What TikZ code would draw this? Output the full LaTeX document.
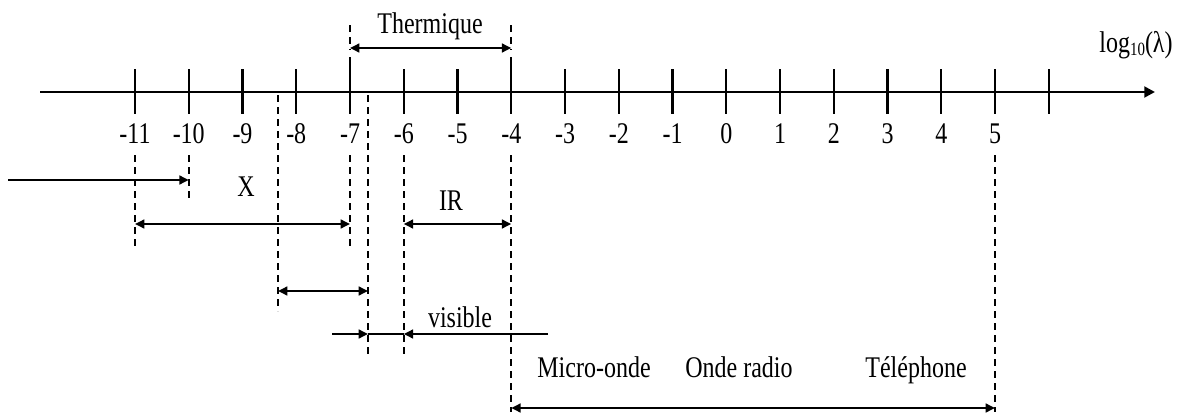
\documentclass[tikz,border=0pt]{standalone}
\usepackage{fontspec}
\setmainfont{Liberation Serif}[FakeStretch=0.8]
\usetikzlibrary{arrows.meta}
\begin{document}
\begin{tikzpicture}[x=0.75pt,y=-0.75pt,
  axisline/.style={line width=2.2pt},
  tickline/.style={line width=1.7pt},
  guide/.style={line width=1.5pt, dash pattern=on 5.5pt off 3.5pt},
  span/.style={line width=2.1pt},
  >={Triangle[length=7pt,width=6.5pt]},
  lbl/.style={font=\fontsize{22.5}{26}\selectfont, inner sep=0pt, anchor=base}]
\useasboundingbox (0,0) rectangle (1189,414);
% axis
\coordinate (axL) at (40,92);
\coordinate (axR) at (1155,92);
\draw[axisline,-{Triangle[length=8pt,width=8pt]}] (axL) -- (axR);
\node[lbl,anchor=base] (axlabel) at (1136,52) {log\raisebox{-0.25ex}{\fontsize{14}{16}\selectfont 10}(λ)};
% ticks
\foreach \k in {0,...,17}{
  \pgfmathsetmacro\xx{135+53.75*\k}
  \ifnum\k=4 \def\tt{57}\else\ifnum\k=7 \def\tt{57}\else\def\tt{69}\fi\fi
  \coordinate (tt\k) at (\xx,\tt);
  \coordinate (tb\k) at (\xx,114);
  \draw[tickline] (tt\k) -- (tb\k);
}
\foreach \k in {0,...,16}{
  \pgfmathsetmacro\xx{135+53.75*\k}
  \pgfmathtruncatemacro\v{\k-11}
  \node[lbl] (n\k) at (\xx,143) {\v};
}
% guide coordinates
\coordinate (gA1) at (135,155);    \coordinate (gA2) at (135,246);
\coordinate (gB1) at (188.75,155); \coordinate (gB2) at (188.75,200);
\coordinate (gC1) at (278,95);     \coordinate (gC2) at (278,311);
\coordinate (gD1) at (350,155);    \coordinate (gD2) at (350,246);
\coordinate (gD3) at (350,25);     \coordinate (gD4) at (350,50);
\coordinate (gE1) at (368,95);     \coordinate (gE2) at (368,358);
\coordinate (gF1) at (403.75,155); \coordinate (gF2) at (403.75,358);
\coordinate (gG1) at (511.25,155); \coordinate (gG2) at (511.25,412);
\coordinate (gG3) at (511.25,25);  \coordinate (gG4) at (511.25,50);
\coordinate (gH1) at (995,155);    \coordinate (gH2) at (995,412);
\foreach \a/\b in {gA1/gA2,gB1/gB2,gC1/gC2,gD1/gD2,gD3/gD4,gE1/gE2,gF1/gF2,gG1/gG2,gG3/gG4,gH1/gH2}
  \draw[guide] (\a) -- (\b);
% spans
\coordinate (thL) at (350,48);   \coordinate (thR) at (511.25,48);
\draw[span,<->] (thL) -- (thR);
\node[lbl] (therm) at (430,33) {Thermique};
\coordinate (gamL) at (8,180);   \coordinate (gamR) at (188.75,180);
\draw[span,->] (gamL) -- (gamR);
\node[lbl] (xlbl) at (246,196) {X};
\coordinate (xL) at (135,224);   \coordinate (xR) at (350,224);
\draw[span,<->] (xL) -- (xR);
\coordinate (irL) at (403.75,224); \coordinate (irR) at (511.25,224);
\draw[span,<->] (irL) -- (irR);
\node[lbl] (irlbl) at (451,210) {IR};
\coordinate (uvL) at (278,291);  \coordinate (uvR) at (368,291);
\draw[span,<->] (uvL) -- (uvR);
\coordinate (vA) at (332,334);   \coordinate (vB) at (368,334);
\coordinate (vC) at (403.75,334); \coordinate (vD) at (548,334);
\draw[span,->] (vA) -- (vB);
\draw[span] (vB) -- (vC);
\draw[span,->] (vD) -- (vC);
\node[lbl] (vislbl) at (460,327) {visible};
\node[lbl] (micro) at (594,377) {Micro-onde};
\node[lbl] (radio) at (739,377) {Onde radio};
\node[lbl] (tel) at (916,377) {Téléphone};
\coordinate (rL) at (511.25,408); \coordinate (rR) at (995,408);
\draw[span,<->] (rL) -- (rR);
\end{tikzpicture}
\end{document}
